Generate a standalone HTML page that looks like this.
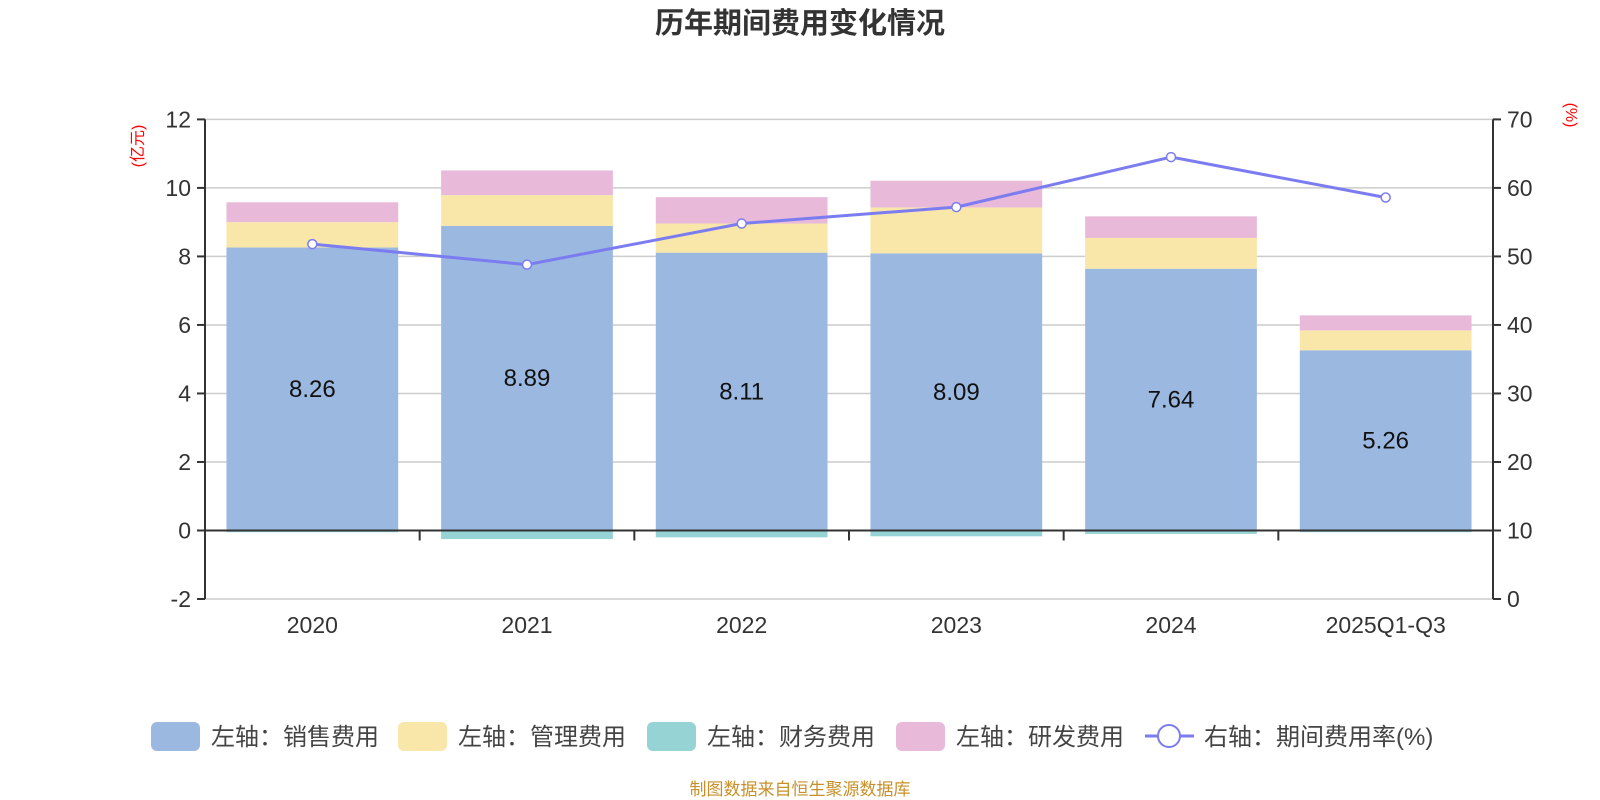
<!DOCTYPE html>
<html><head><meta charset="utf-8"><style>
html,body{margin:0;padding:0;background:#fff;}
svg{display:block;font-family:"Liberation Sans","Noto Sans CJK SC",sans-serif;}
</style></head><body>
<svg id="chart" width="1600" height="800" xmlns="http://www.w3.org/2000/svg">
<text x="800" y="33" text-anchor="middle" font-size="29" font-weight="bold" fill="#333">历年期间费用变化情况</text>
<text transform="translate(143,146) rotate(-90)" text-anchor="middle" font-size="16" fill="#f00">(亿元)</text>
<text transform="translate(1566,115) rotate(90)" text-anchor="middle" font-size="16" fill="#f00">(%)</text>
<g id="grid"></g><g id="bars"></g><g id="axes"></g><g id="line"></g><g id="labels"></g>
<g>
<g><rect x="151" y="722" width="49" height="29" rx="6" fill="#9bb8e1"/><text x="211" y="745" font-size="24" fill="#444">左轴：销售费用</text></g>
<g><rect x="398" y="722" width="49" height="29" rx="6" fill="#f8e7a8"/><text x="458" y="745" font-size="24" fill="#444">左轴：管理费用</text></g>
<g><rect x="647" y="722" width="49" height="29" rx="6" fill="#96d3d4"/><text x="707" y="745" font-size="24" fill="#444">左轴：财务费用</text></g>
<g><rect x="896" y="722" width="49" height="29" rx="6" fill="#e8b9d8"/><text x="956" y="745" font-size="24" fill="#444">左轴：研发费用</text></g>
<g><line x1="1145" y1="736" x2="1194" y2="736" stroke="#7b7cf0" stroke-width="3"/><circle cx="1169" cy="736" r="11" fill="#fff" stroke="#7b7cf0" stroke-width="2"/><text x="1204" y="745" font-size="24" fill="#444">右轴：期间费用率(%)</text></g>
</g>
<text x="800" y="795" text-anchor="middle" font-size="17" fill="#c8902a">制图数据来自恒生聚源数据库</text>
</svg>
<script>
const categories=["2020","2021","2022","2023","2024","2025Q1-Q3"];
const sales=[8.26,8.89,8.11,8.09,7.64,5.26];
const admin=[0.74,0.9,0.85,1.34,0.9,0.58];
const finance=[-0.05,-0.25,-0.2,-0.17,-0.1,-0.05];
const rnd=[0.58,0.72,0.77,0.78,0.63,0.44];
const rate=[51.8,48.8,54.8,57.2,64.5,58.6];
const leftTicks=[-2,0,2,4,6,8,10,12];
const rightTicks=[0,10,20,30,40,50,60,70];

const NS="http://www.w3.org/2000/svg";
const X0=205,X1=1493,YT=119.4,YB=599;
const yL=v=>YB-(v+2)/14*(YB-YT);
const yR=v=>YB-v/70*(YB-YT);
const bw=(X1-X0)/categories.length;
const xc=i=>X0+bw*(i+0.5);
function mk(tag,attrs,parent){const e=document.createElementNS(NS,tag);for(const k in attrs)e.setAttribute(k,attrs[k]);document.getElementById(parent).appendChild(e);return e;}

leftTicks.forEach((t,i)=>{
 const g=mk("line",{x1:X0,x2:X1,y1:yL(t),y2:yL(t),stroke:"#ccc","stroke-width":1.5},"grid");
 
 
 const tl=mk("text",{x:X0-14,y:yL(t)+8,"text-anchor":"end","font-size":23,fill:"#333"},"axes");tl.textContent=t;
 
 
 mk("line",{x1:X0-8,x2:X0,y1:yL(t),y2:yL(t),stroke:"#333","stroke-width":2},"axes");
});
rightTicks.forEach(t=>{
 const tl=mk("text",{x:X1+14,y:yR(t)+8,"font-size":23,fill:"#333"},"axes");tl.textContent=t;
 
 
 mk("line",{x1:X1,x2:X1+8,y1:yR(t),y2:yR(t),stroke:"#333","stroke-width":2},"axes");
});
mk("line",{x1:X0,x2:X0,y1:YT,y2:YB,stroke:"#333","stroke-width":2},"axes");
mk("line",{x1:X1,x2:X1,y1:YT,y2:YB,stroke:"#333","stroke-width":2},"axes");
mk("line",{x1:X0,x2:X1,y1:yL(0),y2:yL(0),stroke:"#333","stroke-width":2},"axes");
for(let i=1;i<categories.length;i++) mk("line",{x1:X0+bw*i,x2:X0+bw*i,y1:yL(0),y2:yL(0)+10,stroke:"#333","stroke-width":2},"axes");

categories.forEach((c,i)=>{
 const w=bw*0.8,x=xc(i)-w/2;
 const pos=[[sales[i],"#9bb8e1","bar-sales"],[admin[i],"#f8e7a8","bar-admin"],[rnd[i],"#e8b9d8","bar-rnd"]];
 let base=0;
 pos.forEach(([v,col,nm])=>{
  const r=mk("rect",{x:x,y:yL(base+v),width:w,height:yL(base)-yL(base+v),fill:col},"bars");
  
  
  base+=v;
 });
 const f=mk("rect",{x:x,y:yL(0),width:w,height:yL(finance[i])-yL(0),fill:"#96d3d4"},"bars");
 
 
 const lb=mk("text",{x:xc(i),y:(yL(0)+yL(sales[i]))/2+8,"text-anchor":"middle","font-size":24,fill:"#111"},"labels");
 lb.textContent=sales[i].toFixed(2);
 
 
 const cl=mk("text",{x:xc(i),y:633,"text-anchor":"middle","font-size":23,fill:"#333"},"axes");
 cl.textContent=c;
 
 
});
const pl=mk("polyline",{points:rate.map((v,i)=>xc(i)+","+yR(v)).join(" "),fill:"none",stroke:"#7b7cf0","stroke-width":3},"line");


rate.forEach((v,i)=>{
 const c=mk("circle",{cx:xc(i),cy:yR(v),r:4.5,fill:"#fff",stroke:"#7b7cf0","stroke-width":1.5},"line");
 
 
});
</script>
</body></html>
